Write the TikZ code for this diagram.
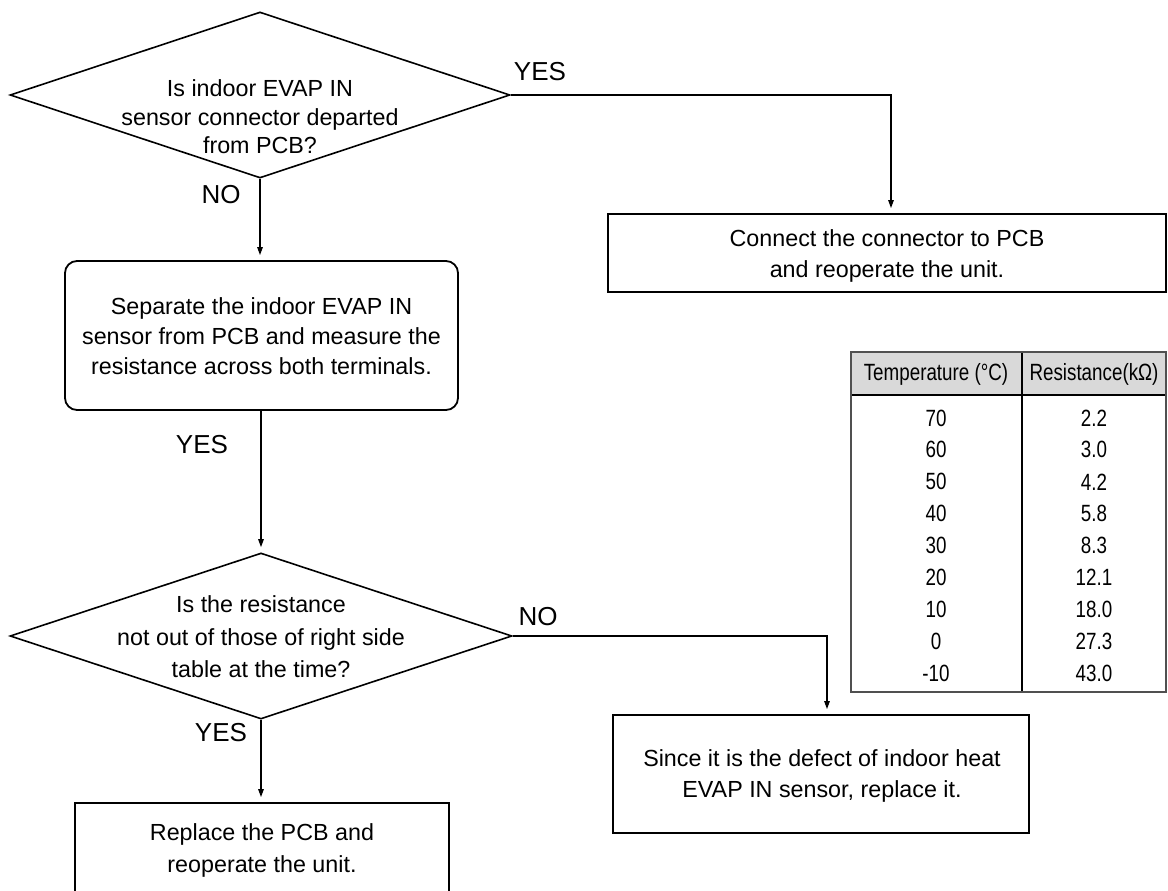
\documentclass[tikz,border=0pt]{standalone}
\usepackage{fontspec}
\setmainfont{Liberation Sans}
\newfontfamily\tabfont{Liberation Sans}[FakeStretch=0.8]
\usetikzlibrary{shapes.geometric,arrows.meta}

\definecolor{hdrgray}{HTML}{D9D9D9}
\definecolor{tabframe}{HTML}{505050}

\begin{document}
\begin{tikzpicture}[x=1pt,y=-1pt,
  body/.style={font=\fontsize{23.3}{31}\selectfont, align=center, inner sep=0pt},
  lbl/.style={font=\fontsize{26}{30}\selectfont, inner sep=0pt},
  dia/.style={draw, line width=1.6pt, diamond, inner sep=0pt},
  stepbox/.style={draw, line width=1.8pt, rectangle, inner sep=0pt},
  conn/.style={line width=1.2pt},
  arr/.style={line width=1.2pt, -{Triangle[length=8pt,width=5.5pt]}, shorten >=5pt},
  cell/.style={font=\tabfont\fontsize{23.5}{28}\selectfont, inner sep=0pt}
]
\useasboundingbox (0,0) rectangle (1168,891);
\clip (0,0) rectangle (1168,891);

% decision: connector departed?
\node[dia, minimum width=500pt, minimum height=166pt] (d1) at (260,95) {};
\node[body, font=\fontsize{23.3}{28.5}\selectfont] (d1t) at (260,117) {Is indoor EVAP IN\\sensor connector departed\\from PCB?};

% action: reconnect
\node[stepbox, minimum width=558pt, minimum height=78pt] (b1) at (887,253) {};
\node[body] (b1t) at (887,256) {Connect the connector to PCB\\and reoperate the unit.};

% action: measure resistance
\node[stepbox, rounded corners=12pt, minimum width=393pt, minimum height=149pt] (rb) at (261.5,335.5) {};
\node[body, font=\fontsize{23.3}{30}\selectfont] (rbt) at (261.5,336) {Separate the indoor EVAP IN\\sensor from PCB and measure the\\resistance across both terminals.};

% decision: resistance within table?
\node[dia, minimum width=502pt, minimum height=166pt] (d2) at (261,636) {};
\node[body, font=\fontsize{23.3}{32.5}\selectfont] (d2t) at (261,637) {Is the resistance\\not out of those of right side\\table at the time?};

% action: replace PCB
\node[stepbox, minimum width=374pt, minimum height=97pt] (b3) at (262,851.5) {};
\node[body, font=\fontsize{23.3}{32}\selectfont] (b3t) at (262,850) {Replace the PCB and\\reoperate the unit.};

% action: replace sensor
\node[stepbox, minimum width=416pt, minimum height=118pt] (b4) at (821,774) {};
\node[body] (b4t) at (822,776) {Since it is the defect of indoor heat\\EVAP IN sensor, replace it.};

% connectors
\draw[arr] (d1.east) -| ([xshift=4pt]b1.north);
\draw[arr] (d1.south) -- (d1.south |- rb.north);
\draw[arr] (d2.north |- rb.south) -- (d2.north);
\draw[arr] (d2.east) -| ([xshift=6pt]b4.north);
\draw[arr] (d2.south) -- (d2.south |- b3.north);

% branch labels
\node[lbl] (l1) at (540,72) {YES};
\node[lbl] (l2) at (221,195) {NO};
\node[lbl] (l3) at (202,445) {YES};
\node[lbl] (l4) at (538,617) {NO};
\node[lbl] (l5) at (221,733) {YES};

% thermistor table
\fill[hdrgray] (851,352) rectangle (1166,395);
\draw[line width=1.4pt] (851,395) -- (1166,395);
\draw[line width=1.3pt] (1022,352) -- (1022,692);
\draw[line width=2pt, draw=tabframe] (851,352) rectangle (1166,692);
\node[cell] (h1) at (936,374) {Temperature (°C)};
\node[cell] (h2) at (1094,374) {Resistance(kΩ)};
\foreach \tv/\rv [count=\i from 0] in {70/2.2,60/3.0,50/4.2,40/5.8,30/8.3,20/12.1,10/18.0,0/27.3,-10/43.0} {
  \pgfmathsetmacro{\ry}{418+31.9*\i}
  \node[cell] (t\i) at (936,\ry) {\tv};
  \node[cell] (r\i) at (1094,\ry) {\rv};
}
\end{tikzpicture}
\end{document}
